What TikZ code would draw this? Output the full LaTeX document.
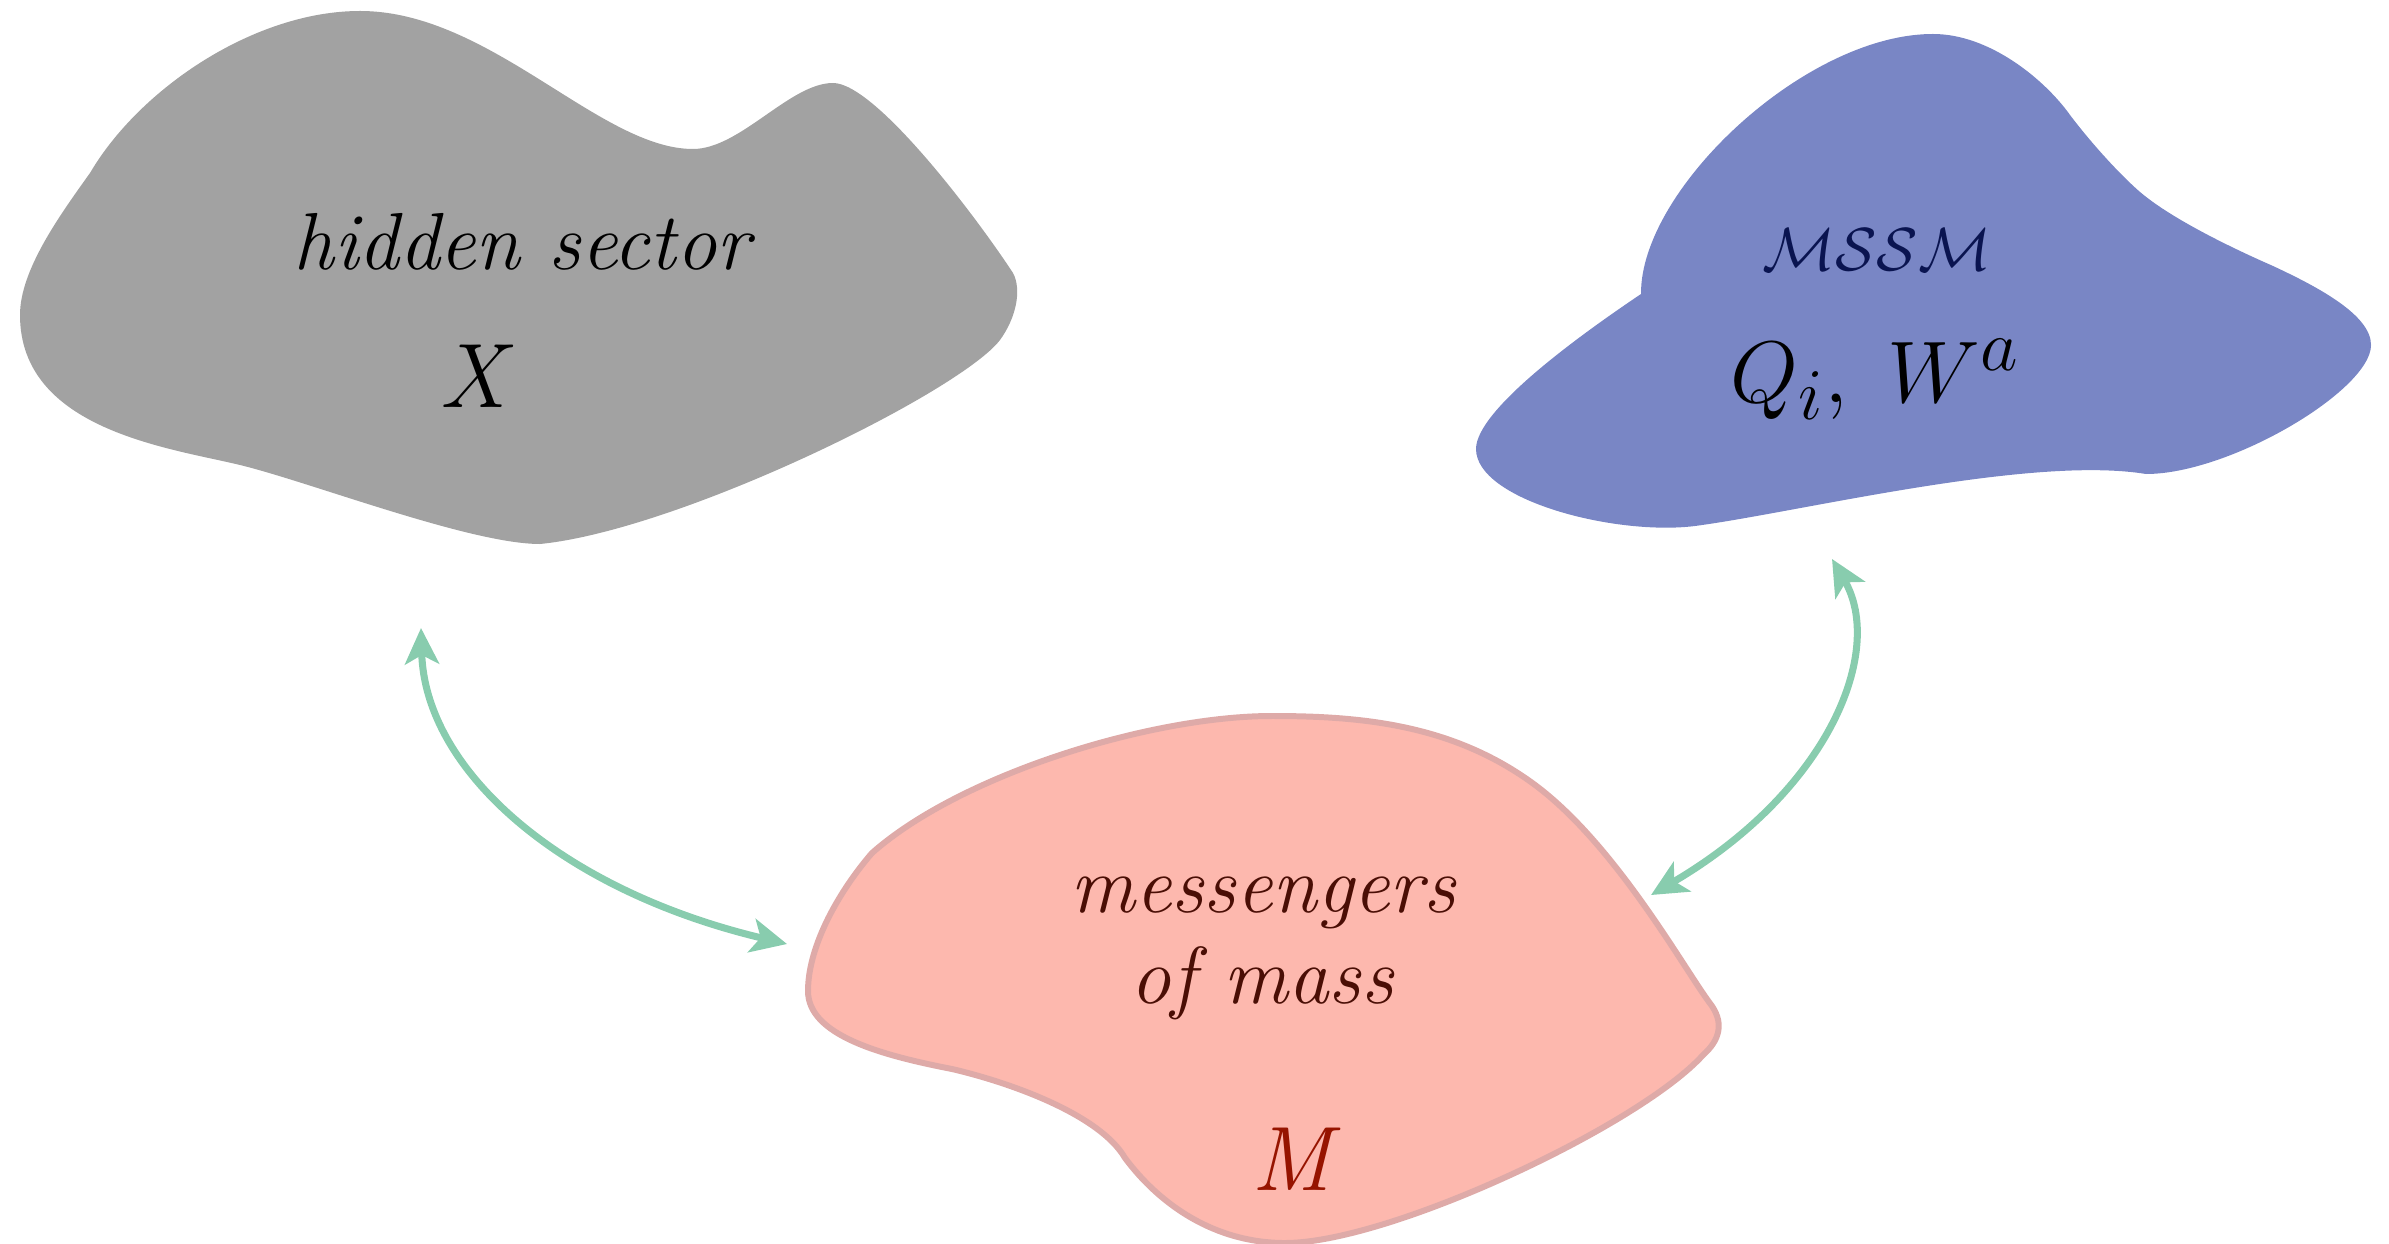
\documentclass[tikz,border=0pt]{standalone}
\usetikzlibrary{arrows.meta}

\definecolor{hiddengrey}{RGB}{162,162,162}
\definecolor{mssmblue}{RGB}{121,134,197}
\definecolor{messpink}{RGB}{253,184,174}
\definecolor{messedge}{RGB}{222,170,168}
\definecolor{linkgreen}{RGB}{136,204,174}
\definecolor{mssmtext}{RGB}{10,20,80}
\definecolor{messtext}{RGB}{74,14,5}
\definecolor{masstext}{RGB}{150,20,0}

\tikzset{
  label/.style={inner sep=0pt, anchor=base},
  link/.style={draw=linkgreen, line width=2pt,
    {Stealth[length=0.36cm, width=0.34cm, inset=0.09cm]}-{Stealth[length=0.36cm, width=0.34cm, inset=0.09cm]}},
}

\begin{document}
\begin{tikzpicture}[x=0.01cm, y=-0.01cm]
\useasboundingbox (0,0) rectangle (2389,1243);

% hidden sector region
\fill[hiddengrey] (90,173)
  .. controls (140,88) and (255,11) .. (360,11)
  .. controls (490,11) and (600,149) .. (693,149)
  .. controls (740,149) and (790,83) .. (833,83)
  .. controls (875,83) and (975,215) .. (1013,273)
  .. controls (1022,290) and (1016,318) .. (1000,340)
  .. controls (960,392) and (680,530) .. (540,544)
  .. controls (470,544) and (310,482) .. (240,465)
  .. controls (170,448) and (20,430) .. (20,315)
  .. controls (20,270) and (60,215) .. (90,173)
  -- cycle;

% MSSM region
\fill[mssmblue] (1641,294)
  .. controls (1640,190) and (1805,34) .. (1933,34)
  .. controls (1990,34) and (2045,80) .. (2070,115)
  .. controls (2088,139) and (2117,172) .. (2140,192)
  .. controls (2174,221) and (2241,252) .. (2273,266)
  .. controls (2318,287) and (2371,315) .. (2371,345)
  .. controls (2371,390) and (2230,474) .. (2146,474)
  .. controls (2030,455) and (1800,512) .. (1695,526)
  .. controls (1615,536) and (1476,500) .. (1476,449)
  .. controls (1476,410) and (1580,335) .. (1641,294)
  -- cycle;

% messenger region
\filldraw[fill=messpink, draw=messedge, line width=1.7pt] (872,853)
  .. controls (960,775) and (1150,716) .. (1272,716)
  .. controls (1360,716) and (1450,724) .. (1531,782)
  .. controls (1612,840) and (1680,962) .. (1709,1002)
  .. controls (1725,1022) and (1720,1040) .. (1703,1055)
  .. controls (1640,1125) and (1390,1243) .. (1285,1243)
  .. controls (1215,1243) and (1160,1205) .. (1125,1158)
  .. controls (1100,1115) and (1012,1083) .. (952,1069)
  .. controls (880,1055) and (808,1035) .. (808,991)
  .. controls (808,945) and (840,890) .. (872,853)
  -- cycle;

% labels
\node[label] (hidden) at (522,270) {\fontsize{23}{28}\selectfont\itshape hidden sector};
\node[label] (X) at (473,407) {\fontsize{26}{31}\selectfont\itshape X};
\node[label, text=mssmtext] (mssm) at (1877,271) {\fontsize{18}{22}\selectfont$\mathcal{MSSM}$};
\node[label] (fields) at (1875,402) {\fontsize{28.5}{34}\selectfont$Q_i,\;W^a$};
\node[label, text=messtext] (mess) at (1263,912) {\fontsize{23}{28}\selectfont\itshape messengers};
\node[label, text=messtext] (ofmass) at (1262,1003) {\fontsize{23}{28}\selectfont\itshape of mass};
\node[label, text=masstext] (M) at (1292,1190) {\fontsize{26}{31}\selectfont\itshape M};

% connector ends
\coordinate (hiddenend) at (421,628);
\coordinate (messleft) at (787,944);
\coordinate (mssmend) at (1832,559);
\coordinate (messright) at (1651,895);

% links
\draw[link] (hiddenend) .. controls (425,770) and (560,890) .. (messleft);
\draw[link] (mssmend) .. controls (1885,650) and (1830,790) .. (messright);
\end{tikzpicture}
\end{document}
